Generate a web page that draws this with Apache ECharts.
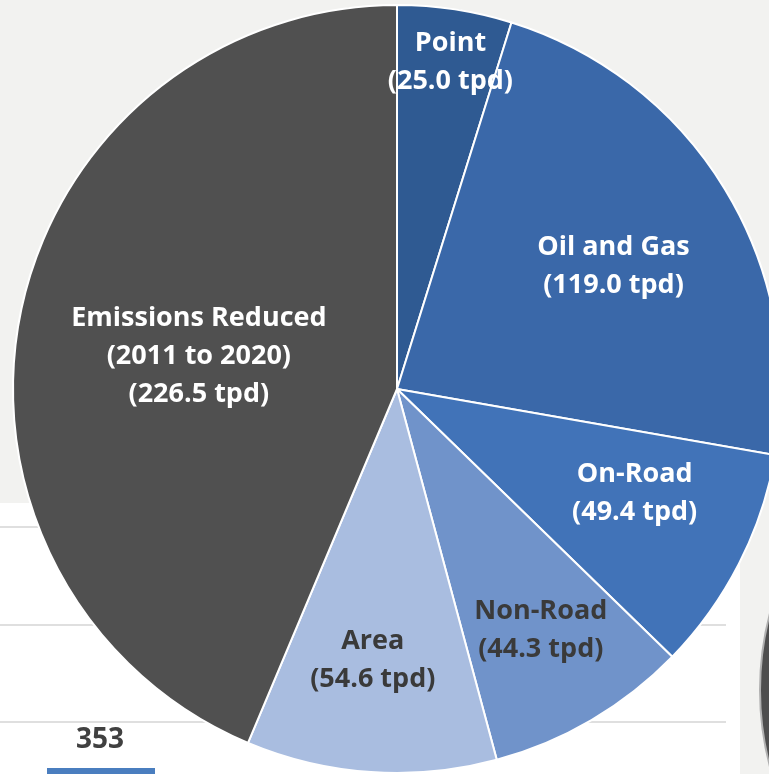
<!DOCTYPE html>
<html>
<head>
<meta charset="utf-8">
<style>
  html, body { margin: 0; padding: 0; background: #f2f2f0; }
  #chart { width: 769px; height: 774px; }
</style>
<script src="https://cdn.jsdelivr.net/npm/echarts@6/dist/echarts.min.js"></script>
</head>
<body>
<div id="chart"></div>
<script>
// Data
const categories = ['Point', 'Oil and Gas', 'On-Road', 'Non-Road', 'Area', 'Emissions Reduced\n(2011 to 2020)'];
const values = [25.0, 119.0, 49.4, 44.3, 54.6, 226.5];
const unit = 'tpd';
const backgroundBarLabel = '353';

// Styles
const colors = ['#2f5a92', '#3a68a9', '#4173b8', '#7093ca', '#a9bde0', '#505050'];
const labelColors = ['#ffffff', '#ffffff', '#ffffff', '#3a3a3a', '#3a3a3a', '#ffffff'];
const labelOffsets = [[24, -134], [50, -21], [64, 16], [45, 73], [-11, 77], [-7, 6]];

const chart = echarts.init(document.getElementById('chart'));

const pieData = categories.map((name, i) => ({
  name: name,
  value: values[i],
  itemStyle: { color: colors[i] },
  label: { color: labelColors[i], offset: labelOffsets[i] }
}));

chart.setOption({
  animation: false,
  backgroundColor: '#f2f2f0',
  graphic: [
    { type: 'rect', z: -10, shape: { x: 0, y: 503, width: 740, height: 280 }, style: { fill: '#ffffff' } },
    { type: 'line', z: -9, shape: { x1: 0, y1: 527, x2: 726, y2: 527 }, style: { stroke: '#d4d4d4', lineWidth: 1.5 } },
    { type: 'line', z: -9, shape: { x1: 0, y1: 625, x2: 726, y2: 625 }, style: { stroke: '#d4d4d4', lineWidth: 1.5 } },
    { type: 'line', z: -9, shape: { x1: 0, y1: 722, x2: 726, y2: 722 }, style: { stroke: '#d4d4d4', lineWidth: 1.5 } },
    { type: 'text', z: -9, style: { text: backgroundBarLabel, x: 100, y: 740, align: 'center', verticalAlign: 'middle', font: 'bold 28px "Open Sans", sans-serif', fill: '#404040' } },
    { type: 'rect', z: -9, shape: { x: 47, y: 768, width: 108, height: 10 }, style: { fill: '#4a7ebf' } },
    { type: 'circle', z: -9, shape: { cx: 1060, cy: 690, r: 300 }, style: { fill: '#4e4e4e', stroke: '#b0b0b0', lineWidth: 2 } }
  ],
  series: [{
    type: 'pie',
    center: [397, 389],
    radius: [0, 384],
    startAngle: 90,
    clockwise: true,
    avoidLabelOverlap: false,
    silent: true,
    itemStyle: { borderColor: '#ffffff', borderWidth: 2 },
    label: {
      show: true,
      position: 'inside',
      formatter: (p) => p.name + '\n(' + p.value.toFixed(1) + ' ' + unit + ')',
      fontFamily: '"Open Sans", sans-serif',
      fontWeight: 'bold',
      fontSize: 27,
      lineHeight: 38,
      align: 'center'
    },
    labelLine: { show: false },
    emphasis: { disabled: true },
    data: pieData
  }]
});
</script>
</body>
</html>
